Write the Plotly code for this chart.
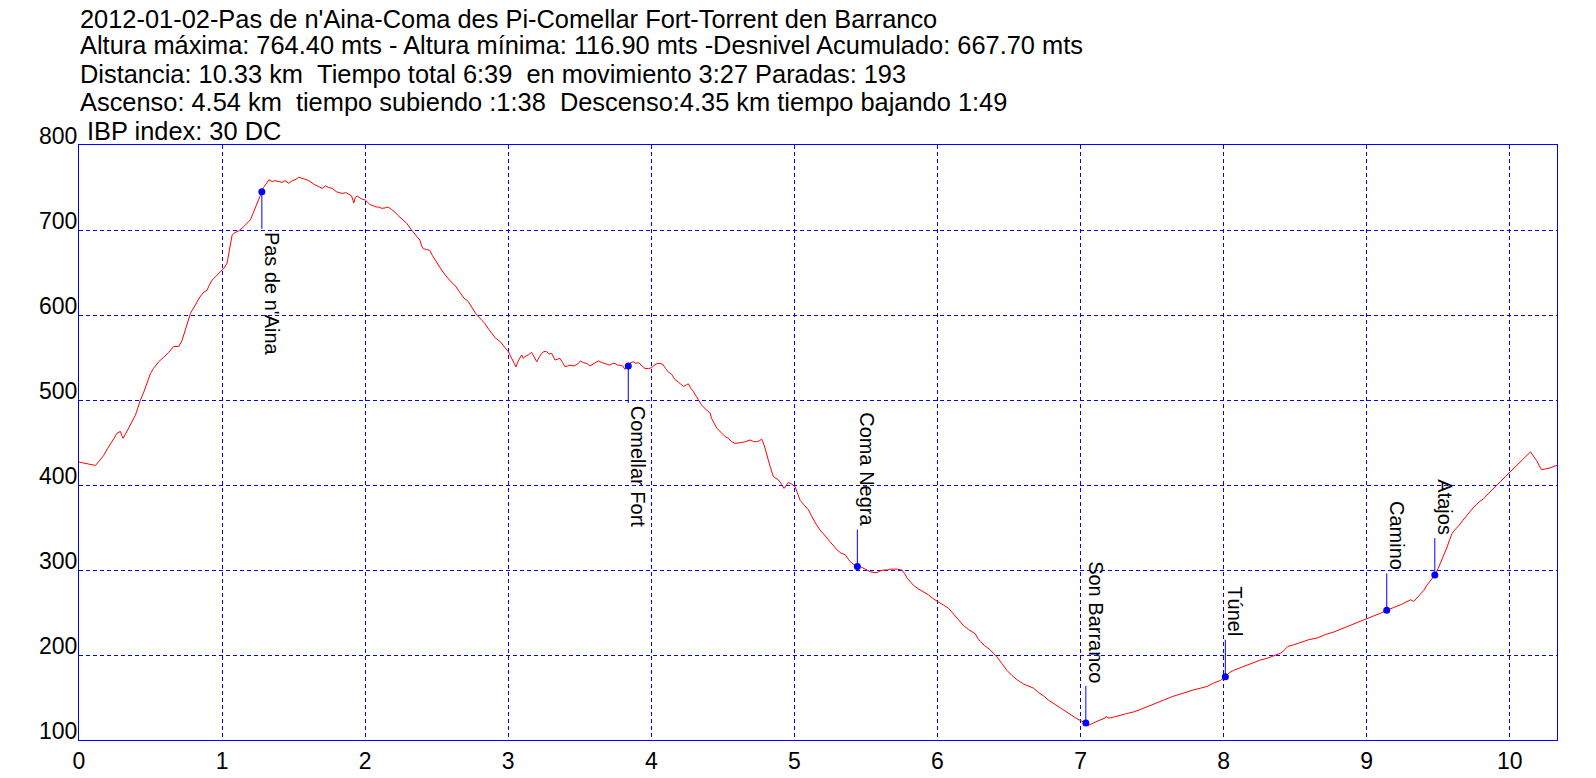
import plotly.graph_objects as go

# ---------------- data ----------------
dist_km = [
    0.000, 0.03, 0.06, 0.09, 0.115, 0.14, 0.173, 0.20, 0.22, 0.245, 0.266, 0.289, 0.300, 0.308, 0.325,
    0.348, 0.37, 0.394, 0.41, 0.429, 0.45, 0.476, 0.499, 0.52, 0.557, 0.59, 0.627, 0.662, 0.697, 0.72,
    0.744, 0.76, 0.779, 0.814, 0.84, 0.872, 0.895, 0.91, 0.930, 0.955, 0.977, 1.012, 1.035, 1.05, 1.07,
    1.09, 1.117, 1.152, 1.175, 1.198, 1.215, 1.233, 1.255, 1.278, 1.29, 1.303, 1.315, 1.327, 1.35, 1.37,
    1.397, 1.42, 1.44, 1.466, 1.49, 1.51, 1.536, 1.56, 1.594, 1.615, 1.63, 1.65, 1.676, 1.70, 1.723,
    1.745, 1.769, 1.80, 1.839, 1.865, 1.886, 1.905, 1.921, 1.93, 1.944, 1.97, 2.003, 2.033, 2.049, 2.08,
    2.096, 2.115, 2.14, 2.161, 2.185, 2.208, 2.23, 2.255, 2.29, 2.324, 2.35, 2.383, 2.395, 2.406, 2.43,
    2.452, 2.47, 2.487, 2.51, 2.534, 2.555, 2.58, 2.60, 2.627, 2.645, 2.662, 2.69, 2.72, 2.75, 2.779,
    2.81, 2.837, 2.86, 2.884, 2.91, 2.942, 2.97, 3.000, 3.03, 3.054, 3.07, 3.094, 3.105, 3.117, 3.14,
    3.164, 3.18, 3.199, 3.215, 3.234, 3.25, 3.268, 3.285, 3.303, 3.327, 3.345, 3.361, 3.38, 3.397, 3.415,
    3.43, 3.46, 3.49, 3.505, 3.524, 3.55, 3.571, 3.60, 3.63, 3.655, 3.676, 3.70, 3.711, 3.73, 3.746,
    3.765, 3.781, 3.80, 3.816, 3.839, 3.855, 3.874, 3.89, 3.91, 3.935, 3.956, 3.98, 4.003, 4.02, 4.042,
    4.06, 4.08, 4.10, 4.119, 4.143, 4.166, 4.189, 4.224, 4.247, 4.259, 4.275, 4.294, 4.315, 4.329, 4.352,
    4.387, 4.41, 4.422, 4.44, 4.457, 4.492, 4.515, 4.539, 4.56, 4.585, 4.61, 4.632, 4.66, 4.69, 4.715,
    4.737, 4.755, 4.772, 4.79, 4.807, 4.82, 4.83, 4.853, 4.87, 4.888, 4.91, 4.928, 4.945, 4.958, 4.981,
    5.005, 5.02, 5.04, 5.07, 5.098, 5.115, 5.133, 5.155, 5.18, 5.21, 5.238, 5.265, 5.296, 5.325, 5.355,
    5.38, 5.401, 5.42, 5.44, 5.46, 5.483, 5.505, 5.53, 5.555, 5.577, 5.60, 5.622, 5.65, 5.669, 5.692,
    5.72, 5.751, 5.77, 5.786, 5.81, 5.832, 5.865, 5.902, 5.935, 5.972, 6.007, 6.04, 6.077, 6.11, 6.147,
    6.18, 6.217, 6.24, 6.264, 6.28, 6.299, 6.33, 6.369, 6.39, 6.415, 6.45, 6.485, 6.52, 6.555, 6.601,
    6.635, 6.671, 6.705, 6.741, 6.775, 6.811, 6.845, 6.881, 6.915, 6.950, 6.975, 6.998, 7.02, 7.037, 7.05,
    7.067, 7.09, 7.115, 7.145, 7.173, 7.18, 7.19, 7.21, 7.24, 7.277, 7.32, 7.371, 7.42, 7.464, 7.52,
    7.58, 7.64, 7.697, 7.745, 7.79, 7.84, 7.884, 7.93, 7.977, 8.012, 8.04, 8.07, 8.10, 8.14, 8.175,
    8.21, 8.255, 8.303, 8.35, 8.397, 8.42, 8.448, 8.49, 8.536, 8.595, 8.653, 8.71, 8.769, 8.815, 8.863,
    8.91, 8.956, 9.00, 9.049, 9.095, 9.14, 9.19, 9.236, 9.27, 9.306, 9.329, 9.36, 9.399, 9.42, 9.446,
    9.476, 9.50, 9.516, 9.54, 9.562, 9.58, 9.597, 9.62, 9.643, 9.67, 9.702, 9.725, 9.748, 9.785, 9.818,
    9.84, 9.865, 9.90, 9.935, 9.97, 10.005, 10.04, 10.075, 10.11, 10.145, 10.165, 10.187, 10.205, 10.222, 10.25,
    10.28, 10.31, 10.33,
]
alt_m = [
    427, 426, 425, 424, 423, 428, 435, 443, 449, 455, 461, 463, 458, 455, 460,
    467, 473, 482, 490, 500, 508, 520, 531, 537, 545, 550, 556, 563, 563, 570,
    582, 592, 602, 612, 620, 627, 629, 635, 641, 645, 649, 655, 661, 675, 694,
    697, 699, 704, 708, 712, 719, 727, 736, 745, 750, 753, 756, 759, 757, 758,
    757, 756, 758, 755, 758, 759, 762, 761, 759, 757, 755, 753, 751, 749, 752,
    750, 749, 745, 743, 744, 742, 740, 732, 738, 740, 737, 735, 730, 729, 727,
    727, 725.5, 726, 727, 724, 721, 717, 713, 708, 700, 695, 688, 681, 678, 677,
    676, 670, 665, 659, 653, 648, 643, 639, 635, 631, 626, 620, 616, 608, 600,
    595, 590, 584, 578, 573, 569, 563, 557, 547, 539, 546, 553, 549, 551, 553,
    556, 551, 545, 550, 555, 557, 557, 554, 555, 547, 548, 549, 544, 539, 540,
    541, 540, 543, 546, 544, 543, 540, 543, 546, 544, 543, 542, 541, 543, 543,
    541, 541, 540, 536, 540, 544, 545, 543, 544, 540, 537, 537, 538, 541, 543,
    543, 542, 537, 533, 530, 524, 521, 516, 518, 519, 514, 510, 504, 500, 494,
    488, 485, 478, 472, 467, 461, 457, 455, 451, 449, 450, 450, 451, 453, 451,
    451, 452, 454, 446, 435, 428, 422, 410, 408, 406, 401, 396, 400, 403, 401,
    398, 391, 382, 376, 371, 365, 359, 353, 347, 341, 335, 329, 324, 320, 318,
    312, 308, 306, 304, 304, 302, 300, 298, 297, 297, 299, 300, 300, 301, 301,
    301, 300, 296, 291, 286, 282, 278, 274.5, 271, 266, 262.7, 259, 255, 249, 241,
    235, 230, 228, 225, 220, 216, 211, 206, 202, 198, 190, 182, 176, 171, 166,
    164, 161, 156, 152, 147, 143, 139, 135, 131, 127, 125, 123, 121, 120, 117,
    118, 120, 122, 124, 126, 128, 126, 126, 127, 129, 131, 133, 136, 139, 143,
    147, 151, 154, 157, 159, 161, 163, 167, 170, 174.5, 179, 182, 184, 186, 189,
    191, 194, 196, 199, 202, 205, 210, 212, 214.5, 218, 220, 224, 227, 230, 233,
    236, 239, 242, 246, 249, 252.6, 256, 259, 262, 265, 263, 269, 276, 282, 288,
    294, 302, 308, 318, 327, 336, 343, 348, 352, 358, 365, 370, 374, 380, 384,
    388, 392, 398, 404, 410, 416, 421, 427, 433, 439, 434, 429, 423, 418, 419,
    420, 422, 423,
]

waypoint_names = ["Pas de n'Aina", "Comellar Fort", "Coma Negra", "Son Barranco", "Túnel", "Camino", "Atajos"]
waypoint_km = [1.278, 3.839, 5.44, 7.037, 8.012, 9.14, 9.476]
waypoint_alt = [745, 540, 304, 120, 174.5, 252.6, 294]
waypoint_label_below = [True, True, False, False, False, False, False]

x_ticks = list(range(0, 11))
y_ticks = list(range(100, 900, 100))

header_lines = [
    "2012-01-02-Pas de n'Aina-Coma des Pi-Comellar Fort-Torrent den Barranco",
    "Altura máxima: 764.40 mts - Altura mínima: 116.90 mts -Desnivel Acumulado: 667.70 mts",
    "Distancia: 10.33 km \u00a0Tiempo total 6:39 \u00a0en movimiento 3:27 Paradas: 193",
    "Ascenso: 4.54 km \u00a0tiempo subiendo :1:38 \u00a0Descenso:4.35 km tiempo bajando 1:49",
    "IBP index: 30 DC",
]

# ---------------- style ----------------
FONT = "Arial, 'Liberation Sans', sans-serif"
BLUE = "#0000ff"
RED = "#ff0000"
STEM_PX = 37

fig = go.Figure()

fig.add_trace(go.Scatter(
    x=dist_km, y=alt_m, mode="lines",
    line=dict(color=RED, width=1), hoverinfo="skip", showlegend=False,
))

fig.add_trace(go.Scatter(
    x=waypoint_km, y=waypoint_alt, mode="markers",
    marker=dict(color=BLUE, size=7), showlegend=False, hoverinfo="skip",
))

for name, xk, ya, below in zip(waypoint_names, waypoint_km, waypoint_alt, waypoint_label_below):
    sign = -1 if below else 1
    fig.add_shape(
        type="line", xref="x", yref="y", ysizemode="pixel", yanchor=ya,
        x0=xk, x1=xk, y0=0, y1=sign * STEM_PX,
        line=dict(color=BLUE, width=1),
    )
    fig.add_annotation(
        x=xk, y=ya, xref="x", yref="y", text=name, showarrow=False,
        textangle=90, xanchor="left", yanchor="top" if below else "bottom",
        yshift=sign * (STEM_PX + 1), xshift=-3,
        font=dict(family=FONT, size=20, color="black"),
    )

# header text lines (pixel-positioned relative to plot top)
plot_top_px = 145
plot_h = 595
line_centers_px = [18.5, 44.7, 73.7, 102.4, 130.7]
line_x_px = [0, 0, 0, 0, 7]
for txt, cy, dx in zip(header_lines, line_centers_px, line_x_px):
    fig.add_annotation(
        x=0, y=1 + (plot_top_px - cy) / plot_h, xref="paper", yref="paper",
        text=txt, showarrow=False, xanchor="left", yanchor="middle", xshift=dx - 1,
        font=dict(family=FONT, size=25.4, color="black"),
    )

fig.update_layout(
    width=1596, height=778,
    margin=dict(l=79, r=39, t=145, b=38, autoexpand=False),
    paper_bgcolor="white", plot_bgcolor="white",
    font=dict(family=FONT, size=23, color="black"),
    showlegend=False,
)
fig.update_xaxes(
    range=[0, 10.33], tickvals=x_ticks, ticktext=[str(v) for v in x_ticks],
    showgrid=True, gridcolor=BLUE, gridwidth=1, griddash="4px,3px",
    showline=True, linecolor=BLUE, linewidth=1, mirror=True,
    ticks="", zeroline=False, tickfont=dict(size=23), automargin=False,
)
fig.update_yaxes(
    range=[100, 800], tickvals=y_ticks, ticktext=[str(v) for v in y_ticks],
    showgrid=True, gridcolor=BLUE, gridwidth=1, griddash="4px,3px",
    showline=True, linecolor=BLUE, linewidth=1, mirror=True,
    ticks="", zeroline=False, tickfont=dict(size=23), automargin=False,
    ticklabelshift=-9, ticklabelstandoff=-4,
)

fig.write_html(
    "out.html",
    config={"displayModeBar": False},
    post_script="document.body.style.margin='0';document.body.style.padding='0';",
)
